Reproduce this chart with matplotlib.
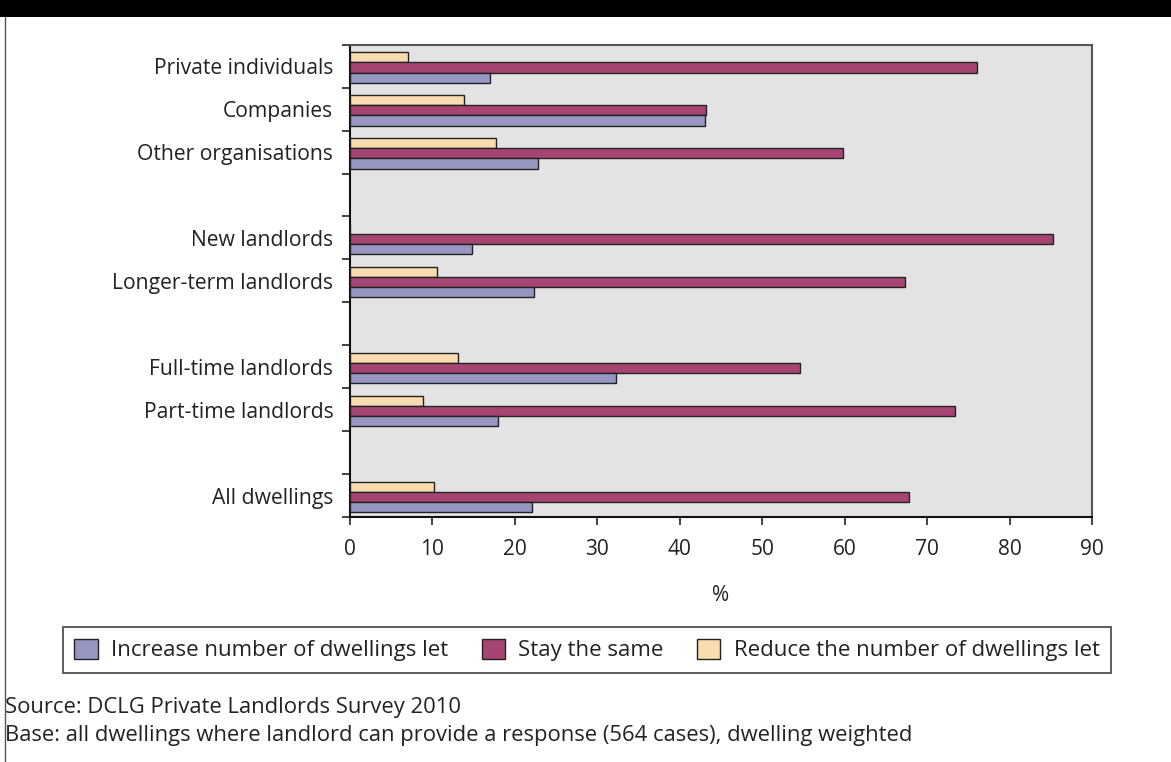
import matplotlib
matplotlib.use("Agg")
import matplotlib.pyplot as plt
from matplotlib.patches import Rectangle
from matplotlib.lines import Line2D

plt.rcParams['font.family'] = ['Open Sans', 'DejaVu Sans']

categories = ["Private individuals", "Companies", "Other organisations",
              "New landlords", "Longer-term landlords",
              "Full-time landlords", "Part-time landlords",
              "All dwellings"]
groups = [3, 2, 2, 1]  # categories per block, blocks separated by a blank slot
increase = [17.0, 43.0, 22.8, 14.8, 22.3, 32.3, 18.0, 22.1]
stay = [76.1, 43.2, 59.8, 85.3, 67.3, 54.6, 73.4, 67.8]
reduce_ = [7.0, 13.8, 17.7, 0.0, 10.6, 13.1, 8.9, 10.2]
series_labels = ["Increase number of dwellings let", "Stay the same",
                 "Reduce the number of dwellings let"]
xticks = [0, 10, 20, 30, 40, 50, 60, 70, 80, 90]
xlabel = "%"
source_lines = ["Source: DCLG Private Landlords Survey 2010",
                "Base: all dwellings where landlord can provide a response (564 cases), dwelling weighted"]

c_inc = "#9696C2"
c_stay = "#A64573"
c_red = "#FADCB0"

# slot positions
slots = []
s = 0
for gi, n in enumerate(groups):
    for k in range(n):
        slots.append(s)
        s += 1
    if gi < len(groups) - 1:
        s += 1
nslots = s

W, H = 1171, 762
fig = plt.figure(figsize=(W / 100, H / 100), dpi=100)
ax = fig.add_axes([350 / W, 1 - 517 / H, (1092 - 350) / W, (517 - 44.7) / H])
ax.set_facecolor("#E3E3E3")

h = 10.2 / 43.0
off = 0.03
centers = [p + 0.5 + off for p in slots]
ax.barh([c - h for c in centers], reduce_, height=h, color=c_red,
        edgecolor="#222222", linewidth=1.0, zorder=3)
ax.barh(centers, stay, height=h, color=c_stay,
        edgecolor="#222222", linewidth=1.0, zorder=3)
ax.barh([c + h for c in centers], increase, height=h, color=c_inc,
        edgecolor="#222222", linewidth=1.0, zorder=3)

ax.set_xlim(0, 90)
ax.set_ylim(nslots, 0)
ax.set_xticks(xticks)
ax.set_xticklabels([str(t) for t in xticks], fontsize=15, color="#222222")
ax.set_yticks(range(nslots + 1))
ax.set_yticklabels([])
ax.set_yticks([p + 0.5 for p in slots], minor=True)
ax.set_yticklabels(categories, minor=True, fontsize=15.2, color="#222222")
ax.tick_params(axis='y', which='major', length=6, width=1.2, color="#222222", direction='out')
ax.tick_params(axis='y', which='minor', length=0, pad=12)
ax.tick_params(axis='x', length=6, width=1.2, color="#222222", direction='out', pad=10)
ax.set_xlabel(xlabel, fontsize=15, color="#222222", labelpad=18)

for side in ['left', 'bottom']:
    ax.spines[side].set_color("#111111")
    ax.spines[side].set_linewidth(1.5)
for side in ['top', 'right']:
    ax.spines[side].set_color("#555555")
    ax.spines[side].set_linewidth(1.5)

# legend
handles = [Rectangle((0, 0), 1, 1, facecolor=c, edgecolor="#222222", linewidth=1.0)
           for c in (c_inc, c_stay, c_red)]
leg = fig.legend(handles, series_labels, loc='center', ncol=3,
                 bbox_to_anchor=(587 / W, 1 - 650 / H), fontsize=16,
                 frameon=True, fancybox=False, edgecolor="#333333",
                 handlelength=1.05, handleheight=1.05, columnspacing=1.5,
                 handletextpad=0.6, borderpad=0.5, borderaxespad=0)
leg.get_frame().set_linewidth(1.4)
for t in leg.get_texts():
    t.set_color("#222222")

# top black band and left border
fig.patches.append(Rectangle((0, 1 - 17 / H), 1, 17 / H, transform=fig.transFigure,
                             facecolor="black", edgecolor="none"))
fig.lines.append(Line2D([4.5 / W, 4.5 / W], [0, 1 - 17 / H], transform=fig.transFigure,
                        color="#555555", linewidth=1.0))

fig.text(5 / W, 1 - 707 / H, source_lines[0], fontsize=15.8, color="#222222", va='center')
fig.text(5 / W, 1 - 735 / H, source_lines[1], fontsize=15.8, color="#222222", va='center')

fig.savefig("out.png", dpi=100, facecolor="white")
